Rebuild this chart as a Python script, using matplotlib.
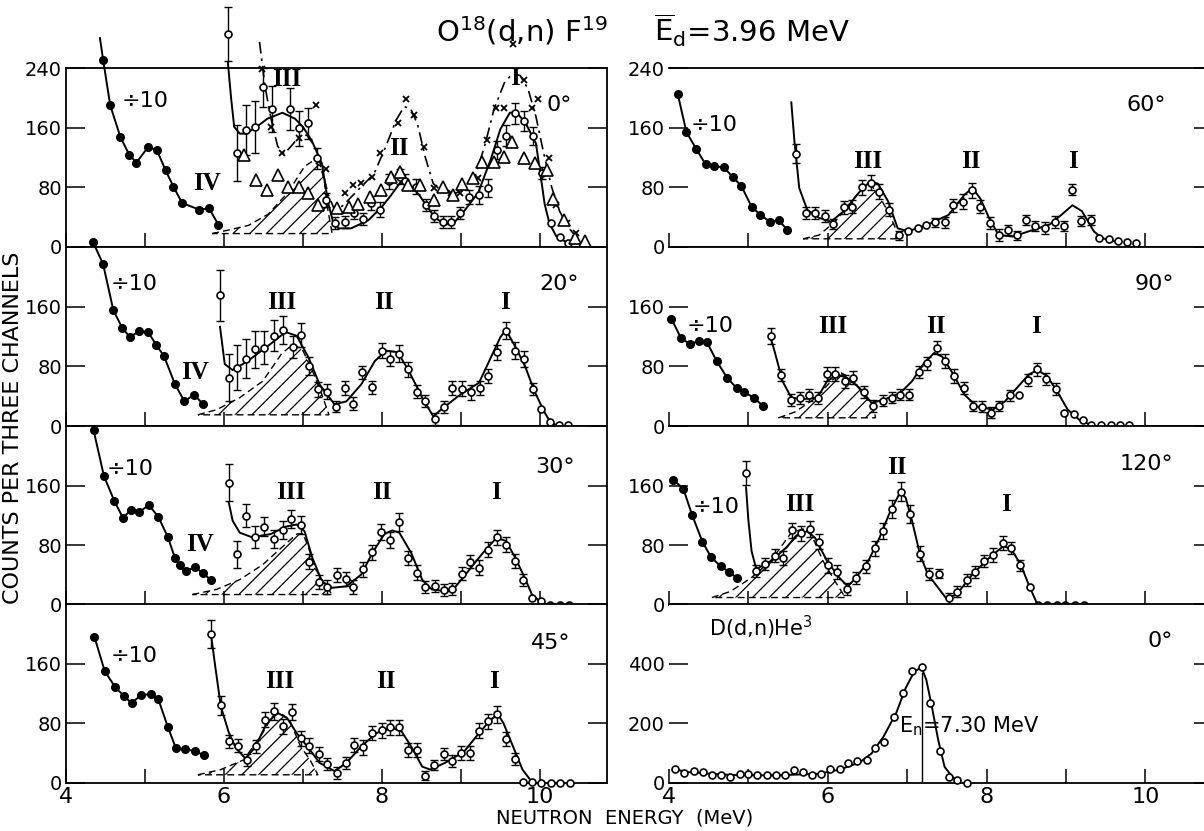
import numpy as np
import matplotlib
matplotlib.use('Agg')
import matplotlib.pyplot as plt
from matplotlib.patches import Polygon

plt.rcParams['font.family'] = ['DejaVu Sans']
plt.rcParams['hatch.linewidth'] = 0.9

# ---------------- 0 deg ----------------
p0_fill_x = [4.47, 4.56, 4.69, 4.80, 4.89, 5.04, 5.15, 5.26, 5.36, 5.47, 5.69, 5.81, 5.93]
p0_fill_y = [251, 190, 147, 124, 113, 134, 130, 103, 81, 59, 50, 52, 30]
p0_lead = [4.43, 280]
p0_circ_x = [6.05, 6.16, 6.28, 6.39, 6.50, 6.61, 6.83, 6.95, 7.07, 7.18, 7.29, 7.41, 7.53, 7.65, 7.76,
             7.86, 7.98, 8.09, 8.23, 8.29, 8.43, 8.56, 8.66, 8.77, 8.87, 8.99, 9.10, 9.23, 9.34, 9.46,
             9.57, 9.68, 9.80, 9.91, 10.03, 10.14, 10.25, 10.36]
p0_circ_y = [286, 126, 157, 161, 214, 185, 185, 159, 166, 119, 63, 32, 34, 46, 37,
             59, 50, 88, 94, 88, 81, 56, 41, 33, 33, 46, 67, 70, 79, 130,
             149, 179, 169, 149, 99, 32, 14, 6]
p0_circ_err = [36, 38, 33, 35, 26, 31, 28, 23, 21, 14, 10, 8, 8, 8, 8,
               9, 10, 10, 10, 10, 10, 8, 8, 8, 8, 8, 10, 12, 12, 12,
               14, 14, 14, 12, 8, 0, 0, 0]
p0_fit_x = [6.05, 6.09, 6.13, 6.20, 6.28, 6.40, 6.55, 6.74, 6.90, 7.00, 7.11, 7.24, 7.32, 7.38, 7.45,
            7.61, 7.83, 8.00, 8.12, 8.23, 8.35, 8.47, 8.66, 8.79, 8.91, 9.04, 9.22, 9.38, 9.50, 9.62,
            9.70, 9.82, 9.95, 10.00, 10.06, 10.12, 10.21, 10.36]
p0_fit_y = [247, 200, 161, 152, 152, 160, 172, 180, 172, 161, 143, 112, 59, 34, 25,
            25, 36, 54, 70, 86, 84, 70, 41, 30, 32, 48, 73, 118, 158, 180,
            181, 166, 139, 103, 58, 32, 14, 5]
p0_x_x = [6.48, 6.60, 6.73, 6.95, 7.17, 7.29, 7.53, 7.64, 7.74, 7.87, 7.97, 8.20, 8.31, 8.41, 8.53,
          8.66, 8.77, 8.88, 8.99, 9.22, 9.33, 9.45, 9.55, 9.66, 9.80, 9.90, 9.98, 10.11, 10.21, 10.34, 10.46]
p0_x_y = [238, 161, 126, 146, 190, 105, 72, 83, 86, 94, 126, 166, 199, 177, 134,
          79, 76, 73, 72, 92, 143, 187, 187, 272, 224, 187, 199, 119, 56, 32, 19]
p0_dash_x = [6.45, 6.52, 6.60, 6.68, 6.76, 6.85, 6.95, 7.05, 7.15, 7.24, 7.32, 7.40, 7.50, 7.62, 7.75,
             7.90, 8.05, 8.18, 8.28, 8.36, 8.45, 8.55, 8.65, 8.78, 8.92, 9.05, 9.18, 9.30, 9.42, 9.55,
             9.65, 9.75, 9.85, 9.95, 10.05, 10.15, 10.25, 10.35, 10.47, 10.58]
p0_dash_y = [275, 215, 170, 135, 125, 135, 148, 150, 135, 105, 70, 50, 55, 68, 82,
             98, 135, 170, 188, 186, 165, 120, 85, 73, 72, 76, 95, 135, 185, 220,
             232, 230, 212, 175, 125, 80, 48, 28, 12, 0]
p0_tri_x = [6.26, 6.40, 6.54, 6.68, 6.81, 6.95, 7.07, 7.19, 7.43, 7.58, 7.70, 7.85, 7.99, 8.12, 8.23,
            8.33, 8.48, 8.66, 8.77, 8.90, 9.02, 9.15, 9.27, 9.42, 9.54, 9.65, 9.80, 9.94, 10.09, 10.17,
            10.30, 10.44, 10.57]
p0_tri_y = [123, 90, 77, 97, 81, 81, 72, 56, 52, 54, 58, 67, 76, 94, 101,
            83, 83, 63, 81, 70, 85, 92, 114, 114, 121, 141, 119, 112, 103, 65,
            36, 12, 8]
p0_hatch_x = [5.85, 6.07, 6.31, 6.56, 6.81, 7.02, 7.12, 7.22, 7.27, 7.31, 7.37]
p0_hatch_y = [18, 23, 29, 44, 73, 108, 115, 109, 89, 53, 18]

# ---------------- 20 deg ----------------
p20_fill_x = [4.34, 4.47, 4.60, 4.71, 4.81, 4.92, 5.04, 5.14, 5.24, 5.38, 5.50, 5.62, 5.73]
p20_fill_y = [247, 217, 155, 132, 119, 127, 126, 109, 94, 56, 33, 42, 30]
p20_circ_x = [5.95, 6.06, 6.16, 6.28, 6.39, 6.51, 6.63, 6.75, 6.87, 6.97, 7.08, 7.19, 7.31, 7.42, 7.53,
              7.64, 7.75, 7.88, 8.00, 8.10, 8.22, 8.33, 8.44, 8.55, 8.67, 8.78, 8.89, 9.01, 9.13, 9.24,
              9.34, 9.46, 9.57, 9.69, 9.80, 9.91, 10.02, 10.13, 10.24, 10.36]
p20_circ_y = [175, 65, 78, 90, 103, 105, 121, 129, 106, 122, 81, 49, 46, 26, 51,
              30, 72, 52, 101, 90, 97, 76, 46, 34, 10, 26, 51, 50, 45, 51,
              67, 99, 128, 101, 90, 49, 23, 5, 1, 1]
p20_circ_err = [34, 31, 30, 26, 25, 22, 21, 19, 15, 16, 12, 10, 10, 7, 9,
                9, 9, 9, 10, 10, 11, 10, 9, 8, 8, 8, 10, 10, 10, 10,
                10, 10, 12, 11, 11, 8, 0, 0, 0, 0]
p20_fit_x = [5.95, 6.01, 6.11, 6.30, 6.59, 6.78, 6.92, 7.07, 7.21, 7.40, 7.55, 7.74, 7.91, 8.05, 8.20,
             8.34, 8.51, 8.65, 8.75, 8.99, 9.23, 9.38, 9.50, 9.57, 9.69, 9.81, 9.93, 10.05, 10.14, 10.24]
p20_fit_y = [133, 83, 75, 87, 110, 126, 121, 92, 56, 29, 33, 56, 87, 101, 99,
             74, 38, 13, 22, 42, 58, 92, 119, 129, 106, 81, 47, 20, 4, 0]
p20_hatch_x = [5.67, 5.91, 6.20, 6.49, 6.73, 6.88, 7.00, 7.12, 7.24, 7.33]
p20_hatch_y = [15, 22, 38, 60, 97, 110, 101, 74, 42, 15]

# ---------------- 30 deg ----------------
p30_fill_x = [4.35, 4.48, 4.61, 4.72, 4.82, 4.93, 5.05, 5.17, 5.29, 5.38, 5.44, 5.52, 5.63, 5.73, 5.84]
p30_fill_y = [234, 173, 140, 117, 127, 125, 134, 118, 91, 63, 53, 45, 51, 43, 33]
p30_circ_x = [6.06, 6.17, 6.28, 6.39, 6.51, 6.63, 6.75, 6.85, 6.97, 7.08, 7.20, 7.31, 7.43, 7.54, 7.64,
              7.76, 7.88, 7.99, 8.10, 8.22, 8.33, 8.44, 8.55, 8.67, 8.78, 8.89, 9.01, 9.12, 9.23, 9.34,
              9.46, 9.57, 9.68, 9.79, 9.90, 10.02, 10.13, 10.25, 10.37]
p30_circ_y = [164, 68, 120, 91, 105, 88, 100, 115, 107, 58, 31, 24, 40, 35, 24,
              48, 71, 98, 87, 111, 63, 43, 24, 25, 20, 22, 42, 58, 50, 74,
              91, 81, 59, 34, 10, 6, 0, 0, 0]
p30_circ_err = [25, 18, 16, 15, 13, 12, 12, 12, 12, 10, 9, 9, 9, 9, 9,
                10, 10, 11, 11, 12, 10, 10, 8, 8, 8, 8, 9, 9, 10, 10,
                10, 10, 10, 8, 0, 0, 0, 0, 0]
p30_fit_x = [6.06, 6.11, 6.20, 6.35, 6.59, 6.78, 6.92, 7.02, 7.12, 7.24, 7.36, 7.55, 7.74, 7.88, 8.03,
             8.13, 8.22, 8.37, 8.51, 8.63, 8.83, 8.92, 9.09, 9.28, 9.45, 9.57, 9.69, 9.81, 9.90, 10.00, 10.10]
p30_fit_y = [138, 113, 97, 91, 95, 105, 108, 99, 63, 32, 23, 25, 41, 70, 95,
             100, 97, 70, 34, 21, 18, 23, 45, 70, 90, 86, 63, 36, 14, 5, 0]
p30_hatch_x = [5.60, 5.91, 6.20, 6.49, 6.73, 6.92, 7.00, 7.07, 7.16, 7.28, 7.37]
p30_hatch_y = [14, 21, 34, 54, 77, 95, 96, 77, 48, 27, 14]

# ---------------- 45 deg ----------------
p45_fill_x = [4.36, 4.49, 4.62, 4.73, 4.83, 4.95, 5.07, 5.17, 5.29, 5.39, 5.51, 5.63, 5.75]
p45_fill_y = [196, 150, 129, 117, 107, 118, 119, 112, 75, 47, 45, 43, 37]
p45_circ_x = [5.84, 5.96, 6.07, 6.18, 6.29, 6.41, 6.52, 6.63, 6.75, 6.86, 6.97, 7.08, 7.20, 7.31, 7.43,
              7.54, 7.65, 7.76, 7.88, 8.00, 8.10, 8.22, 8.33, 8.44, 8.55, 8.66, 8.78, 8.89, 9.00, 9.12,
              9.23, 9.34, 9.46, 9.57, 9.68, 9.79, 9.90, 10.02, 10.14, 10.26, 10.38]
p45_circ_y = [200, 104, 56, 50, 31, 49, 85, 96, 76, 95, 60, 50, 39, 25, 14,
              27, 51, 48, 67, 71, 75, 75, 44, 44, 10, 24, 39, 30, 40, 40,
              70, 83, 92, 59, 32, 2, 2, 0, 0, 0, 0]
p45_circ_err = [19, 13, 9, 9, 8, 9, 10, 11, 10, 11, 10, 10, 9, 8, 8,
                8, 9, 10, 10, 10, 10, 10, 9, 9, 6, 7, 8, 8, 9, 9,
                10, 10, 11, 10, 8, 0, 0, 0, 0, 0, 0]
p45_fit_x = [5.84, 5.89, 5.96, 6.06, 6.15, 6.27, 6.39, 6.54, 6.68, 6.80, 6.92, 7.07, 7.21, 7.40, 7.55,
             7.74, 7.93, 8.13, 8.25, 8.37, 8.51, 8.61, 8.80, 9.04, 9.23, 9.38, 9.47, 9.54, 9.66, 9.78,
             9.88, 9.95]
p45_fit_y = [196, 156, 103, 68, 47, 33, 47, 80, 94, 87, 67, 47, 27, 16, 27,
             49, 67, 74, 69, 49, 22, 18, 27, 42, 67, 85, 92, 80, 49, 18,
             4, 0]
p45_hatch_x = [5.67, 5.96, 6.25, 6.49, 6.61, 6.71, 6.83, 6.97, 7.09, 7.19]
p45_hatch_y = [11, 18, 31, 67, 89, 94, 85, 49, 31, 11]

# ---------------- 60 deg ----------------
p60_fill_x = [4.11, 4.22, 4.34, 4.46, 4.57, 4.69, 4.80, 4.91, 5.04, 5.15, 5.27, 5.38, 5.49]
p60_fill_y = [205, 154, 132, 111, 108, 107, 94, 82, 54, 43, 34, 36, 23]
p60_circ_x = [5.60, 5.73, 5.84, 5.96, 6.07, 6.20, 6.31, 6.43, 6.54, 6.65, 6.77, 6.89, 7.01, 7.13, 7.24,
              7.35, 7.47, 7.58, 7.70, 7.81, 7.92, 8.04, 8.15, 8.27, 8.38, 8.50, 8.61, 8.74, 8.86, 8.97,
              9.07, 9.19, 9.31, 9.42, 9.54, 9.65, 9.77, 9.88]
p60_circ_y = [125, 45, 45, 41, 31, 53, 54, 80, 86, 74, 50, 16, 22, 25, 30,
              33, 33, 56, 61, 76, 54, 32, 16, 23, 16, 36, 28, 26, 34, 28,
              77, 35, 36, 12, 11, 8, 7, 5]
p60_circ_err = [13, 8, 8, 8, 7, 9, 9, 10, 10, 10, 9, 6, 0, 0, 0,
                6, 7, 9, 10, 10, 9, 8, 8, 7, 6, 7, 7, 8, 8, 7,
                7, 7, 7, 0, 0, 0, 0, 0]
p60_fit_x = [5.54, 5.58, 5.64, 5.74, 5.89, 6.04, 6.20, 6.40, 6.53, 6.63, 6.76, 6.88, 7.01, 7.26, 7.52,
             7.72, 7.82, 7.92, 8.03, 8.15, 8.33, 8.53, 8.79, 8.94, 9.08, 9.20, 9.35, 9.45, 9.60]
p60_fit_y = [194, 141, 79, 50, 39, 34, 48, 74, 88, 85, 61, 25, 21, 30, 43,
             70, 79, 65, 39, 16, 14, 21, 30, 43, 56, 48, 21, 12, 8]
p60_hatch_x = [5.69, 5.89, 6.09, 6.30, 6.43, 6.53, 6.65, 6.78, 6.91]
p60_hatch_y = [11, 16, 34, 61, 79, 85, 68, 43, 11]

# ---------------- 90 deg ----------------
p90_fill_x = [4.03, 4.15, 4.26, 4.38, 4.48, 4.60, 4.73, 4.85, 4.95, 5.07, 5.18]
p90_fill_y = [144, 118, 110, 114, 112, 87, 65, 51, 45, 38, 27]
p90_circ_x = [5.28, 5.41, 5.54, 5.65, 5.76, 5.88, 5.99, 6.09, 6.21, 6.32, 6.45, 6.57, 6.69, 6.81, 6.91,
              7.02, 7.15, 7.25, 7.37, 7.48, 7.59, 7.71, 7.83, 7.94, 8.05, 8.16, 8.29, 8.41, 8.52, 8.64,
              8.75, 8.87, 8.98, 9.10, 9.21, 9.32, 9.44, 9.56, 9.68, 9.79]
p90_circ_y = [121, 69, 35, 37, 41, 38, 70, 70, 60, 65, 45, 27, 34, 38, 42,
              42, 72, 84, 105, 87, 67, 51, 27, 26, 18, 27, 41, 41, 62, 76,
              63, 50, 17, 16, 8, 1, 1, 1, 1, 1]
p90_circ_err = [11, 8, 8, 8, 8, 8, 9, 9, 9, 9, 8, 8, 7, 7, 7,
                7, 8, 9, 9, 9, 9, 8, 7, 7, 7, 7, 7, 0, 8, 9,
                8, 8, 0, 0, 0, 0, 0, 0, 0, 0]
p90_fit_x = [5.27, 5.33, 5.43, 5.54, 5.69, 5.87, 5.99, 6.12, 6.25, 6.40, 6.55, 6.70, 6.91, 7.06, 7.21,
             7.34, 7.44, 7.57, 7.72, 7.88, 8.08, 8.23, 8.38, 8.53, 8.64, 8.76, 8.89, 9.02, 9.17, 9.32]
p90_fit_y = [122, 100, 60, 38, 36, 38, 60, 69, 64, 51, 31, 35, 44, 60, 84,
             98, 93, 71, 42, 26, 22, 33, 51, 69, 75, 67, 46, 22, 8, 1]
p90_hatch_x = [5.38, 5.59, 5.84, 6.04, 6.17, 6.30, 6.45, 6.58, 6.60]
p90_hatch_y = [11, 19, 37, 60, 71, 64, 42, 24, 11]

# ---------------- 120 deg ----------------
p120_fill_x = [4.05, 4.18, 4.29, 4.42, 4.53, 4.65, 4.76, 4.86]
p120_fill_y = [168, 156, 121, 85, 64, 52, 44, 36]
p120_circ_x = [4.97, 5.10, 5.21, 5.33, 5.43, 5.55, 5.66, 5.77, 5.89, 6.00, 6.12, 6.24, 6.36, 6.48, 6.59,
               6.70, 6.81, 6.92, 7.04, 7.16, 7.27, 7.40, 7.52, 7.63, 7.75, 7.85, 7.97, 8.08, 8.20, 8.31,
               8.42, 8.55, 8.65, 8.76, 8.88, 8.99, 9.11, 9.22]
p120_circ_y = [177, 45, 55, 66, 63, 100, 96, 102, 85, 53, 44, 21, 36, 52, 76,
               99, 129, 152, 122, 69, 42, 42, 9, 18, 33, 44, 59, 67, 83, 77,
               53, 24, 0, 0, 0, 0, 0, 0]
p120_circ_err = [16, 8, 8, 9, 9, 10, 10, 11, 10, 10, 9, 8, 8, 9, 10,
                 11, 12, 13, 12, 10, 8, 6, 7, 7, 8, 8, 8, 9, 9, 8,
                 8, 0, 0, 0, 0, 0, 0, 0]
p120_fit_x = [4.97, 5.00, 5.04, 5.10, 5.28, 5.48, 5.60, 5.74, 5.84, 5.99, 6.15, 6.25, 6.35, 6.50, 6.65,
              6.78, 6.91, 6.98, 7.06, 7.16, 7.26, 7.39, 7.49, 7.62, 7.82, 8.03, 8.21, 8.31, 8.43, 8.53,
              8.63, 8.69]
p120_fit_y = [158, 113, 72, 48, 59, 77, 93, 99, 90, 59, 36, 25, 36, 57, 90,
              124, 151, 144, 113, 68, 41, 23, 9, 14, 41, 63, 79, 75, 54, 27,
              3, 0]
p120_hatch_x = [4.54, 4.77, 5.03, 5.28, 5.54, 5.69, 5.79, 5.94, 6.09, 6.22]
p120_hatch_y = [10, 18, 36, 59, 97, 102, 95, 59, 32, 10]

# ---------------- D(d,n)He3 0 deg ----------------
dd_circ_x = [4.08, 4.19, 4.32, 4.43, 4.54, 4.66, 4.77, 4.89, 5.00, 5.11, 5.23, 5.35, 5.46, 5.57, 5.69,
             5.80, 5.92, 6.03, 6.15, 6.26, 6.37, 6.49, 6.60, 6.71, 6.83, 6.95, 7.06, 7.18, 7.29, 7.41,
             7.52, 7.63, 7.75]
dd_circ_y = [48, 35, 40, 37, 26, 26, 20, 31, 29, 26, 26, 28, 26, 43, 37,
             26, 31, 48, 48, 67, 73, 76, 116, 138, 220, 301, 374, 388, 267, 108,
             20, 9, 0]
dd_fit_x = [4.06, 4.21, 4.52, 4.87, 5.38, 5.89, 6.15, 6.40, 6.55, 6.70, 6.86, 6.98, 7.09, 7.18, 7.24,
            7.31, 7.39, 7.47, 7.57, 7.67]
dd_fit_y = [48, 37, 31, 26, 26, 31, 45, 69, 99, 155, 234, 318, 374, 388, 346,
            256, 144, 54, 20, 3]
dd_en_x = 7.18
dd_en_top = 370

# labels: (text, x, y)
p0_labels = [('÷10', 5.0, 196), ('IV', 5.79, 85), ('III', 6.80, 224), ('II', 8.21, 132), ('I', 9.68, 226)]
p20_labels = [('÷10', 4.86, 190), ('IV', 5.63, 72), ('III', 6.73, 165), ('II', 8.03, 165), ('I', 9.56, 165)]
p30_labels = [('÷10', 4.81, 182), ('IV', 5.70, 81), ('III', 6.85, 151), ('II', 8.0, 151), ('I', 9.45, 151)]
p45_labels = [('÷10', 4.86, 170), ('III', 6.71, 136), ('II', 8.05, 136), ('I', 9.42, 136)]
p60_labels = [('÷10', 4.57, 164), ('III', 6.50, 114), ('II', 7.80, 114), ('I', 9.09, 114)]
p90_labels = [('÷10', 4.52, 134), ('III', 6.06, 134), ('II', 7.36, 134), ('I', 8.62, 134)]
p120_labels = [('÷10', 4.59, 131), ('III', 5.65, 135), ('II', 6.87, 185), ('I', 8.24, 135)]
angle_text = ['0°', '20°', '30°', '45°', '60°', '90°', '120°', '0°']
angle_pos = [(10.25, 191), (10.24, 190), (10.19, 185), (10.14, 188),
             (10.01, 190), (10.11, 190), (10.01, 189), (10.19, 475)]

fig = plt.figure(figsize=(12.04, 8.31), dpi=100)

col_left = [66 / 1204, 669 / 1204]
col_w = [541 / 1204, 544 / 1204]
row_bottom = [(831 - 247) / 831, (831 - 426) / 831, (831 - 605) / 831, (831 - 783) / 831]
row_h = 179 / 831

roman = dict(family='Liberation Serif', weight='bold', fontsize=18, ha='center', va='center')


def draw_panel(ax, fx, fy, cx, cy, cerr, fitx, fity, hx, hy, labels, lead=None):
    if hx is not None:
        poly = Polygon(np.column_stack([hx, hy]), closed=True, fill=False, hatch='//',
                       edgecolor='k', linestyle=(0, (5, 3)), lw=1.0, zorder=1)
        ax.add_patch(poly)
    if fx is not None:
        lx = list(fx)
        ly = list(fy)
        if lead is not None:
            lx = [lead[0]] + lx
            ly = [lead[1]] + ly
        ax.plot(lx, ly, '-', color='k', lw=1.4, clip_on=False, zorder=2)
        ax.plot(fx, fy, 'o', color='k', ms=5.5, clip_on=False, zorder=3)
    ax.plot(fitx, fity, '-', color='k', lw=1.4, clip_on=False, zorder=2)
    cx = np.array(cx)
    cy = np.array(cy)
    cerr = np.array(cerr) if cerr is not None else np.zeros(len(cx))
    m = cerr > 0
    if m.any():
        ax.errorbar(cx[m], cy[m], yerr=cerr[m], fmt='none', ecolor='k', elinewidth=1.0,
                    capsize=3, capthick=1.0, clip_on=False, zorder=3)
    ax.plot(cx, cy, 'o', mfc='white', mec='k', ms=5, mew=1.2, clip_on=False, zorder=4)
    for t, x, y in labels:
        if t == '÷10':
            ax.text(x, y, t, fontsize=16, ha='center', va='center')
        else:
            ax.text(x, y, t, **roman)


panels = [
    (0, 0, p0_fill_x, p0_fill_y, p0_circ_x, p0_circ_y, p0_circ_err, p0_fit_x, p0_fit_y,
     p0_hatch_x, p0_hatch_y, p0_labels, p0_lead),
    (0, 1, p20_fill_x, p20_fill_y, p20_circ_x, p20_circ_y, p20_circ_err, p20_fit_x, p20_fit_y,
     p20_hatch_x, p20_hatch_y, p20_labels, None),
    (0, 2, p30_fill_x, p30_fill_y, p30_circ_x, p30_circ_y, p30_circ_err, p30_fit_x, p30_fit_y,
     p30_hatch_x, p30_hatch_y, p30_labels, None),
    (0, 3, p45_fill_x, p45_fill_y, p45_circ_x, p45_circ_y, p45_circ_err, p45_fit_x, p45_fit_y,
     p45_hatch_x, p45_hatch_y, p45_labels, None),
    (1, 0, p60_fill_x, p60_fill_y, p60_circ_x, p60_circ_y, p60_circ_err, p60_fit_x, p60_fit_y,
     p60_hatch_x, p60_hatch_y, p60_labels, None),
    (1, 1, p90_fill_x, p90_fill_y, p90_circ_x, p90_circ_y, p90_circ_err, p90_fit_x, p90_fit_y,
     p90_hatch_x, p90_hatch_y, p90_labels, None),
    (1, 2, p120_fill_x, p120_fill_y, p120_circ_x, p120_circ_y, p120_circ_err, p120_fit_x, p120_fit_y,
     p120_hatch_x, p120_hatch_y, p120_labels, None),
    (1, 3, None, None, dd_circ_x, dd_circ_y, None, dd_fit_x, dd_fit_y, None, None, [], None),
]

for i, p in enumerate(panels):
    col, row = p[0], p[1]
    ax = fig.add_axes([col_left[col], row_bottom[row], col_w[col], row_h])
    ax.set_xlim(4.0, 10.85)
    ymax = 600 if (col == 1 and row == 3) else 240
    ax.set_ylim(0, ymax)
    for s in ax.spines.values():
        s.set_linewidth(1.3)
    if col == 1:
        ax.spines['left'].set_visible(False)
    draw_panel(ax, *p[2:])

    ax.set_xticks(range(4, 11))
    if row == 3:
        ax.set_xticklabels(['4', '', '6', '', '8', '', '10'])
    else:
        ax.set_xticklabels([])
    ax.tick_params(axis='x', direction='in', length=10, width=1.1, top=False, labelsize=16, pad=3)

    if ymax == 600:
        ax.set_yticks([0, 200, 400, 600])
        ax.set_yticklabels(['0', '200', '400', ''])
    else:
        ax.set_yticks([0, 80, 160, 240])
        ax.set_yticklabels(['0', '80', '160', '240' if row == 0 else ''])
    ax.tick_params(axis='y', direction='in', length=14, width=1.1, right=True, labelsize=14, pad=3)

    ax.text(angle_pos[i][0], angle_pos[i][1], angle_text[i], fontsize=16, ha='center', va='center')

    if col == 1 and row == 3:
        ax.plot([dd_en_x, dd_en_x], [0, dd_en_top], color='k', lw=1.0)
        ax.text(5.15, 520, r'D(d,n)He$^3$', fontsize=15, ha='center', va='center')
        ax.text(7.78, 190, r'E$_{\rm n}$=7.30 MeV', fontsize=15, ha='center', va='center')
    if col == 0 and row == 0:
        ax.plot(p0_x_x, p0_x_y, 'x', color='k', ms=5, mew=1.3, clip_on=False, zorder=4)
        ax.plot(p0_dash_x, p0_dash_y, color='k', lw=1.2, linestyle=(0, (7, 3, 1.5, 3)),
                clip_on=False, zorder=2)
        ax.plot(p0_tri_x, p0_tri_y, '^', mfc='white', mec='k', ms=8, mew=1.2, clip_on=False, zorder=4)

fig.text(643 / 1204, 1 - 30 / 831,
         r'O$^{18}$(d,n) F$^{19}$     $\overline{\rm E}_{\rm d}$=3.96 MeV',
         fontsize=21, ha='center', va='center')
fig.text(625 / 1204, 1 - 818 / 831, 'NEUTRON  ENERGY  (MeV)', fontsize=14, ha='center', va='center')
fig.text(13 / 1204, 1 - 428 / 831, 'COUNTS PER THREE CHANNELS', fontsize=16, rotation=90,
         ha='center', va='center')

fig.savefig('out.png', dpi=100)
